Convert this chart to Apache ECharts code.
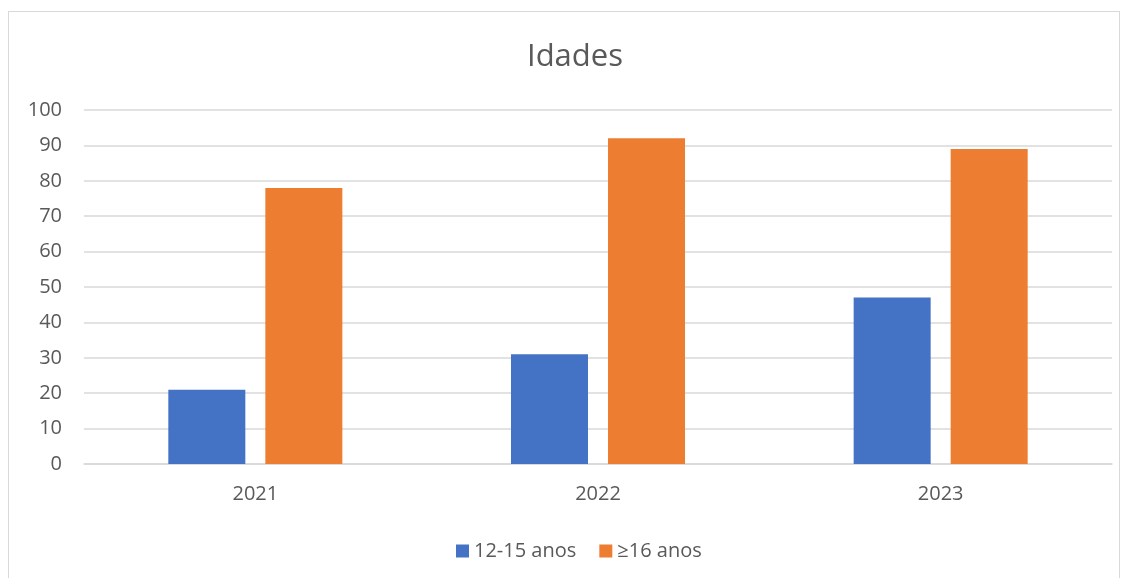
<!DOCTYPE html>
<html>
<head>
<meta charset="utf-8">
<script src="https://cdn.jsdelivr.net/npm/echarts@6/dist/echarts.min.js"></script>
<style>
    body { margin: 0; background: #fff; }
    #frame { position: absolute; left: 8px; top: 11px; width: 1112px; height: 580px; border: 1px solid #d9d9d9; box-sizing: border-box; }
    #chart { position: absolute; left: 0; top: 0; width: 1128px; height: 578px; }
</style>
</head>
<body>
<div id="frame"></div>
<div id="chart"></div>
<script>
    // dados do gráfico
    var anos = ['2021', '2022', '2023'];
    var idade12a15 = [21, 31, 47];
    var idade16mais = [78, 92, 89];
    var yTicks = { min: 0, max: 100, interval: 10 };

    var myChart = echarts.init(document.getElementById('chart'));
    myChart.setOption({
        animation: false,
        textStyle: { fontFamily: 'Open Sans, sans-serif' },
        title: {
            text: 'Idades',
            left: 522,
            top: 37,
            textStyle: { fontSize: 31, fontWeight: 'normal', color: '#595959', fontFamily: 'Open Sans' }
        },
        legend: {
            left: 451,
            top: 536,
            itemWidth: 13,
            itemHeight: 13,
            itemGap: 23,
            icon: 'rect',
            textStyle: { fontSize: 20, color: '#595959', fontFamily: 'Open Sans' }
        },
        grid: { left: 84, right: 16, top: 110, bottom: 114 },
        xAxis: {
            type: 'category',
            data: anos,
            axisLine: { lineStyle: { color: '#d9d9d9', width: 1.5 } },
            axisTick: { show: false },
            axisLabel: { fontSize: 20, color: '#595959', margin: 20 }
        },
        yAxis: {
            type: 'value',
            min: yTicks.min,
            max: yTicks.max,
            interval: yTicks.interval,
            axisLine: { show: false },
            axisTick: { show: false },
            axisLabel: { fontSize: 20, color: '#595959', margin: 22 },
            splitLine: { lineStyle: { color: '#d9d9d9', width: 1.5 } }
        },
        series: [
            {
                name: '12-15 anos',
                type: 'bar',
                data: idade12a15,
                barWidth: 77,
                barGap: '26%',
                itemStyle: { color: '#4472c4' }
            },
            {
                name: '≥16 anos',
                type: 'bar',
                data: idade16mais,
                barWidth: 77,
                itemStyle: { color: '#ed7d31' }
            }
        ]
    });
</script>
</body>
</html>
